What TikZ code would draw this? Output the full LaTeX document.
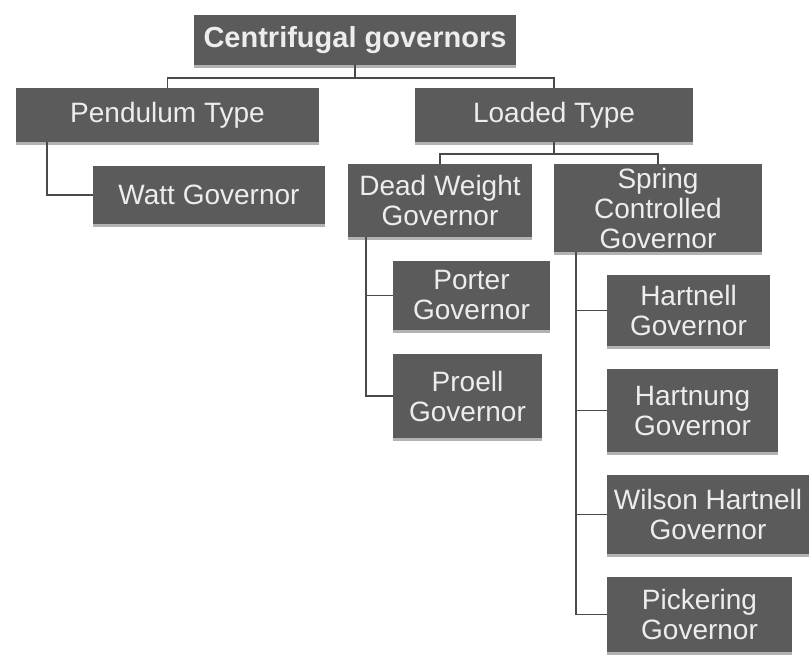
\documentclass[tikz,border=0pt]{standalone}
\usepackage{fontspec}
\setmainfont{Liberation Sans}
\usetikzlibrary{shadows,calc}
\definecolor{boxgray}{HTML}{5B5B5B}
\definecolor{txtgray}{HTML}{EDEDED}
\definecolor{linegray}{HTML}{4A4A4A}
\begin{document}
\begin{tikzpicture}[x=1pt,y=-1pt,
  box/.style={rectangle, fill=boxgray, text=txtgray, inner sep=0pt, align=center,
    font=\fontsize{28}{30}\selectfont,
    drop shadow={shadow xshift=0pt, shadow yshift=-3pt, opacity=0.3, fill=black}},
  conn/.style={draw=linegray, line width=1.8pt}]
\useasboundingbox (0,0) rectangle (809,656);
\fill[white] (0,0) rectangle (809,656);

\node[box, minimum width=322pt, minimum height=50pt, font=\bfseries\fontsize{29}{30}\selectfont] (top) at (355,40) {Centrifugal governors};
\node[box, minimum width=303pt, minimum height=54pt] (pend) at (167.5,115) {Pendulum Type};
\node[box, minimum width=278pt, minimum height=54pt] (loaded) at (554,115) {Loaded Type};
\node[box, minimum width=232pt, minimum height=58pt] (watt) at (209,195) {Watt Governor};
\node[box, minimum width=184pt, minimum height=73pt] (dead) at (440,200.5) {Dead Weight\\Governor};
\node[box, minimum width=208pt, minimum height=88pt] (spring) at (658,208) {Spring\\Controlled\\Governor};
\node[box, minimum width=157pt, minimum height=69pt] (porter) at (471.5,295.5) {Porter\\Governor};
\node[box, minimum width=149pt, minimum height=84pt] (proell) at (467.5,396) {Proell\\Governor};
\node[box, minimum width=163pt, minimum height=71pt] (hartnell) at (688.5,310.5) {Hartnell\\Governor};
\node[box, minimum width=171pt, minimum height=83pt] (hartnung) at (692.5,410.5) {Hartnung\\Governor};
\node[box, minimum width=202pt, minimum height=79pt] (wilson) at (708,514.5) {Wilson Hartnell\\Governor};
\node[box, minimum width=185pt, minimum height=75pt] (pickering) at (699.5,614.5) {Pickering\\Governor};

\draw[conn] (top.south) -- ++(0,13) -| (pend.north);
\draw[conn] (top.south) -- ++(0,13) -| (loaded.north);
\draw[conn] (loaded.south) -- ++(0,12) -| (dead.north);
\draw[conn] (loaded.south) -- ++(0,12) -| (spring.north);
\draw[conn] ([xshift=31pt]pend.south west) |- (watt.west);
\draw[conn] ([xshift=18pt]dead.south west) |- (porter.west);
\draw[conn] ([xshift=18pt]dead.south west) |- (proell.west);
\draw[conn] ([xshift=22pt]spring.south west) |- (hartnell.west);
\draw[conn] ([xshift=22pt]spring.south west) |- (hartnung.west);
\draw[conn] ([xshift=22pt]spring.south west) |- (wilson.west);
\draw[conn] ([xshift=22pt]spring.south west) |- (pickering.west);
\end{tikzpicture}
\end{document}
